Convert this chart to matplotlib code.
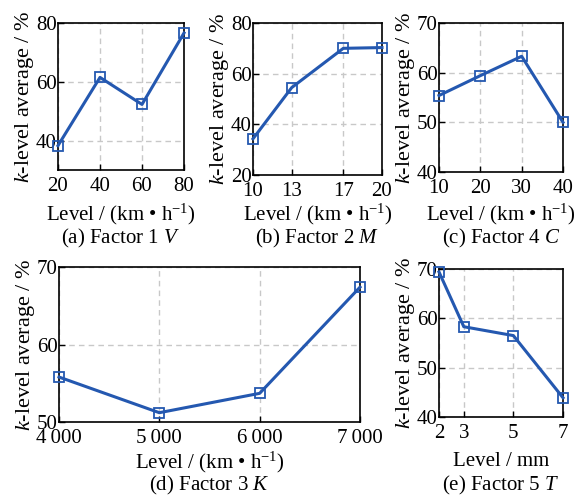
import matplotlib
matplotlib.use("Agg")
import matplotlib.pyplot as plt

plt.rcParams['font.family'] = ['Liberation Serif', 'DejaVu Serif']
plt.rcParams['mathtext.fontset'] = 'custom'
plt.rcParams['mathtext.rm'] = 'Liberation Serif'
plt.rcParams['mathtext.it'] = 'Liberation Serif:italic'
plt.rcParams['font.size'] = 14

# data
v_lv = [20, 40, 60, 80]
v_avg = [38.3, 61.5, 52.3, 76.6]
m_lv = [10, 13, 17, 20]
m_avg = [34.3, 54.5, 70.0, 70.3]
c_lv = [10, 20, 30, 40]
c_avg = [55.4, 59.4, 63.3, 50.0]
k_lv = [4000, 5000, 6000, 7000]
k_avg = [55.8, 51.2, 53.7, 67.4]
k_ticklabels = ["4\u2009000", "5\u2009000", "6\u2009000", "7\u2009000"]
t_lv = [2, 3, 5, 7]
t_avg = [69.4, 58.3, 56.5, 43.9]

W, H = 579, 496
blue = '#2458b0'
speed = "Level / (km \u2022 h$^{-1}$)"
ylab = "$k$-level average / %"
fs = 15

fig = plt.figure(figsize=(W / 100, H / 100), dpi=100)


def panel(box, x, y, xlim, ylim, yticks, xlab, cap, xlab_y, cap_y, xtl=None):
    l, t, r, b = box
    ax = fig.add_axes([l / W, 1 - b / H, (r - l) / W, (b - t) / H])
    ax.plot(x, y, '-', color=blue, lw=2.2, marker='s', ms=6.5, mfc='none', mec=blue, mew=1.3, clip_on=False, zorder=3)
    ax.set_xlim(*xlim)
    ax.set_ylim(*ylim)
    ax.set_xticks(x)
    if xtl:
        ax.set_xticklabels(xtl)
    ax.set_yticks(yticks)
    ax.tick_params(direction='in', length=4, width=1, labelsize=fs)
    ax.tick_params(axis='x', pad=5)
    ax.tick_params(axis='y', pad=1)
    ax.grid(True, color='#c8c8c8', ls=(0, (4, 3)), lw=1)
    for s in ax.spines.values():
        s.set_linewidth(1.2)
    ax.set_ylabel(ylab, fontsize=16, labelpad=0)
    cx = (l + r) / 2
    fig.text(cx / W, 1 - xlab_y / H, xlab, ha='center', va='center', fontsize=fs)
    fig.text(cx / W, 1 - cap_y / H, cap, ha='center', va='center', fontsize=fs)
    return ax


panel((58, 23, 184, 170), v_lv, v_avg, (20, 80), (30, 80), [40, 60, 80],
      speed, "(a) Factor 1 $V$", 214, 238)
panel((253, 23, 382, 175), m_lv, m_avg, (10, 20), (20, 80), [20, 40, 60, 80],
      speed, "(b) Factor 2 $M$", 214, 238)
panel((439, 23, 563, 172), c_lv, c_avg, (10, 40), (40, 70), [40, 50, 60, 70],
      speed, "(c) Factor 4 $C$", 214, 238)
panel((59, 267, 360, 422), k_lv, k_avg, (4000, 7000), (50, 70), [50, 60, 70],
      speed, "(d) Factor 3 $K$", 462, 485, xtl=k_ticklabels)
panel((439, 269, 563, 417), t_lv, t_avg, (2, 7), (40, 70), [40, 50, 60, 70],
      "Level / mm", "(e) Factor 5 $T$", 461, 485)

fig.savefig("out.png", dpi=100)
